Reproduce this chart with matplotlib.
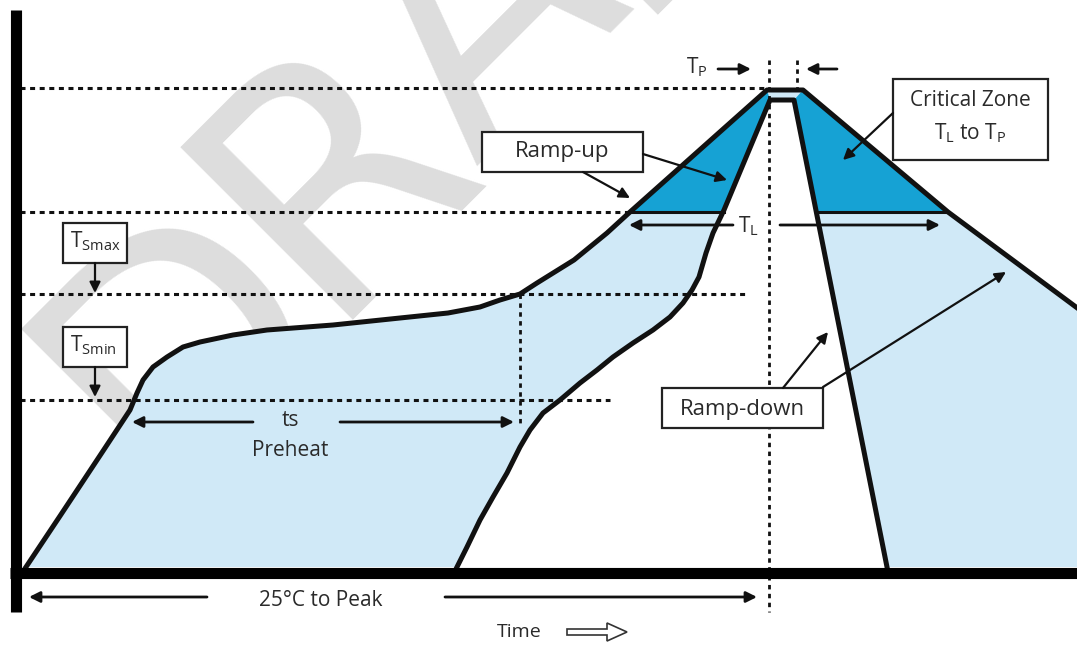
import matplotlib
matplotlib.use("Agg")
import matplotlib.pyplot as plt
from matplotlib.patches import Rectangle, FancyArrow

plt.rcParams["font.family"] = ["Open Sans", "DejaVu Sans"]

# profile curves, in picture pixels (y grows downwards)
outer_x = [26, 60, 103, 130, 137, 143, 153, 167, 183, 200, 233, 267, 333,
           400, 448, 480, 500, 520, 537, 574, 607, 630, 767, 803, 948, 1080]
outer_y = [567, 516, 451, 410, 393, 380, 367, 357, 347, 342, 335, 330, 325,
           318, 313, 307, 300, 294, 283, 260, 233, 212, 90, 90, 212, 310]
inner_x = [457, 467, 480, 493, 507, 520, 530, 543, 560, 580, 597, 613, 633,
           653, 670, 683, 692, 699, 706, 713, 724, 770, 794, 887]
inner_y = [567, 547, 520, 497, 473, 447, 430, 413, 400, 383, 370, 357, 343,
           330, 317, 303, 290, 277, 253, 233, 210, 100, 100, 567]

# critical zone (between T_L and T_P)
crit_left_x = [630, 767, 770, 724]
crit_left_y = [212, 90, 100, 212]
crit_right_x = [803, 948, 816, 794]
crit_right_y = [90, 212, 212, 100]

# reference levels: T_P, T_L, T_Smax, T_Smin
level_y = [88, 212, 294, 400]
level_end = [767, 630, 745, 610]

# watermark letters and where each one starts
mark_letters = ["D", "R", "A", "F", "T"]
mark_x = [160, 320, 474, 625, 752]
mark_y = [501, 320, 166, 15, -112]

BLACK = "#111111"
LIGHT = "#d0e9f7"
DARK = "#16a2d4"
TXT = "#2a2a2a"

fig = plt.figure(figsize=(10.77, 6.46), dpi=100)
ax = fig.add_axes([0, 0, 1, 1])
ax.set_xlim(0, 1077)
ax.set_ylim(646, 0)
ax.axis("off")

# watermark
for ch, x, y in zip(mark_letters, mark_x, mark_y):
    ax.text(x, y, ch, fontsize=240, color="#dddddd", rotation=45,
            rotation_mode="anchor", ha="left", va="baseline",
            family="DejaVu Sans", zorder=0)

# fills
ax.fill(outer_x + [1080, 26], outer_y + [567, 567], color=LIGHT, lw=0,
        zorder=1)
ax.fill(inner_x, inner_y, color="white", lw=0, zorder=2)
ax.fill(crit_left_x, crit_left_y, color=DARK, lw=0, zorder=3)
ax.fill(crit_right_x, crit_right_y, color=DARK, lw=0, zorder=3)

# dashed levels
for y, x1 in zip(level_y, level_end):
    ax.plot([20, x1], [y, y], color=BLACK, lw=2.2,
            linestyle=(0, (1.64, 1.5)), zorder=4)
ax.plot([520, 520], [294, 427], color=BLACK, lw=2.0,
        linestyle=(0, (1.6, 1.6)), zorder=4)
ax.plot([769, 769], [60, 612], color=BLACK, lw=2.0,
        linestyle=(0, (1.6, 1.6)), zorder=4)
ax.plot([797, 797], [60, 92], color=BLACK, lw=2.0,
        linestyle=(0, (1.6, 1.6)), zorder=4)

# T_L edge of critical zone
ax.plot([630, 724], [212, 212], color=BLACK, lw=2.2, zorder=5)
ax.plot([816, 948], [212, 212], color=BLACK, lw=2.2, zorder=5)

# curves
ax.plot(outer_x, outer_y, color=BLACK, lw=3.6, solid_joinstyle="round",
        zorder=6)
ax.plot(inner_x, inner_y, color=BLACK, lw=3.6, solid_joinstyle="round",
        zorder=6)

# axes
ax.plot([15.5, 15.5], [10, 612], color="black", lw=8, solid_capstyle="butt",
        zorder=7)
ax.plot([10, 1077], [572.5, 572.5], color="black", lw=8,
        solid_capstyle="butt", zorder=7)


def arrow(x0, y0, x1, y1, lw=1.6, ms=16):
    ax.annotate("", xy=(x1, y1), xytext=(x0, y0),
                arrowprops=dict(arrowstyle="-|>", color=BLACK, lw=lw,
                                mutation_scale=ms, shrinkA=0, shrinkB=0),
                zorder=8)


def box(x0, y0, x1, y1):
    ax.add_patch(Rectangle((x0, y0), x1 - x0, y1 - y0, facecolor="white",
                           edgecolor="#222222", lw=1.6, zorder=8))


# T_Smax / T_Smin boxes
box(63, 223, 127, 263)
ax.text(70, 247, r"$\mathregular{T_{Smax}}$", fontsize=15, color=TXT,
        va="baseline", ha="left", zorder=9)
arrow(95, 263, 95, 293)
box(63, 327, 127, 367)
ax.text(70, 351, r"$\mathregular{T_{Smin}}$", fontsize=15, color=TXT,
        va="baseline", ha="left", zorder=9)
arrow(95, 367, 95, 397)

# Ramp-up
box(482, 132, 643, 172)
ax.text(562, 152, "Ramp-up", fontsize=16, color=TXT, ha="center",
        va="center", zorder=9)
arrow(643, 154, 727, 180)
arrow(583, 172, 630, 198)

# Critical zone
box(893, 79, 1048, 160)
ax.text(970, 101, "Critical Zone", fontsize=15, color=TXT, ha="center",
        va="center", zorder=9)
ax.text(970, 133, r"$\mathregular{T_L}$ to $\mathregular{T_P}$",
        fontsize=15, color=TXT, ha="center", va="center", zorder=9)
arrow(893, 113, 843, 160)

# T_P
ax.text(697, 73, r"$\mathregular{T_P}$", fontsize=15, color=TXT,
        ha="center", va="baseline", zorder=9)
arrow(718, 69, 751, 69, lw=2)
arrow(837, 69, 806, 69, lw=2)

# T_L
ax.text(748, 232, r"$\mathregular{T_L}$", fontsize=15, color=TXT,
        ha="center", va="baseline", zorder=9)
arrow(733, 225, 629, 225, lw=2)
arrow(780, 225, 940, 225, lw=2)

# Preheat
ax.text(290, 421, "ts", fontsize=15, color=TXT, ha="center", va="center",
        zorder=9)
ax.text(290, 451, "Preheat", fontsize=15, color=TXT, ha="center",
        va="center", zorder=9)
arrow(253, 422, 132, 422, lw=2)
arrow(340, 422, 514, 422, lw=2)

# Ramp-down
box(662, 388, 823, 428)
ax.text(742, 409, "Ramp-down", fontsize=16, color=TXT, ha="center",
        va="center", zorder=9)
arrow(783, 388, 828, 332)
arrow(823, 387, 1006, 272)

# 25C to Peak
ax.text(321, 601, "25°C to Peak", fontsize=15, color=TXT, ha="center",
        va="center", zorder=9)
arrow(207, 597, 29, 597, lw=2)
arrow(445, 597, 757, 597, lw=2)

# Time
ax.text(519, 632, "Time", fontsize=14, color=TXT, ha="center",
        va="center", zorder=9)
ax.add_patch(FancyArrow(567, 632, 60, 0, width=6, head_width=18,
                        head_length=20, length_includes_head=True,
                        facecolor="white", edgecolor="#333333", lw=1.2,
                        zorder=9))

fig.savefig("out.png", dpi=100)
